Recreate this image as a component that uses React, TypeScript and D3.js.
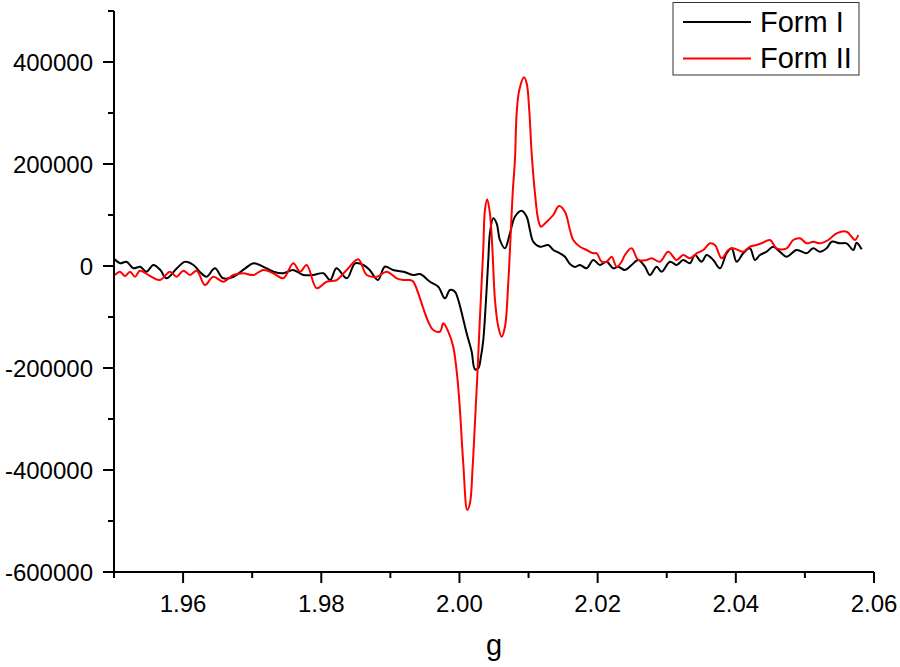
import React from "react";
import * as d3 from "d3";

const gForm1 = [1.9501,1.9509,1.9518,1.9528,1.9538,1.9547,1.9557,1.9567,1.9576,1.9591,1.9603,1.9615,1.9624,1.9634,1.9646,1.9658,1.9673,1.969,1.9702,1.9716,1.9731,1.9745,1.9759,1.9774,1.9788,1.9803,1.9813,1.9822,1.9837,1.9849,1.9861,1.987,1.9882,1.9892,1.9904,1.9919,1.9933,1.9943,
1.99573,1.99693,1.9979,1.99863,1.99935,1.99983,2.00046,2.00104,2.00177,2.00224,2.00272,2.00311,2.00345,2.00384,2.00417,2.00441,2.00489,2.00538,2.00586,2.00659,2.00731,2.00803,2.009,2.00973,2.0102,2.01068,2.01165,2.01285,2.01358,2.01455,2.01527,2.01599,2.01672,
2.01744,2.01841,2.01937,2.02033,2.0213,2.02226,2.02298,2.02395,2.02492,2.02588,2.02685,2.02757,2.02854,2.02926,2.03047,2.03143,2.03239,2.03336,2.03408,2.03505,2.03578,2.03673,2.0377,2.03867,2.03939,2.04012,2.04107,2.04204,2.04277,2.04349,2.04446,2.04541,2.04638,2.04735,2.0488,2.05025,2.0512,2.05217,2.05314,2.05387,2.05507,2.05603,2.057,2.05748,2.05821];
const valForm1 = [13100,5300,8400,-4500,-1400,-11200,2000,-7800,-24100,-4500,8400,2000,-11200,-21000,-4500,-24100,-21000,-4500,5300,-1400,-11200,-14300,-7800,-17600,-17600,-14300,-27500,-4500,-24100,5300,2000,-7800,-27500,-1400,-7800,-11200,-17600,-15700,
-30800,-40600,-63300,-47100,-50400,-66700,-99400,-132000,-168000,-202600,-200600,-177800,-145100,-66700,11800,64100,93500,83700,51000,34700,64100,96700,108400,96700,70600,47600,37800,41200,31400,24900,18200,3900,-2000,
2000,-4500,11800,2000,8400,-4500,-1400,-7800,2000,11800,-1400,-17600,-1400,-11200,8400,2000,11800,5300,21600,8400,21600,11800,-4500,24900,34700,8400,24900,34700,11800,21600,28000,37800,28000,18200,31400,24900,34700,28000,34700,47600,44500,44500,31400,45700,32700];

const gForm2 = [1.95014,1.95087,1.95159,1.95232,1.95304,1.95376,1.95521,1.95666,1.9581,1.95907,1.96003,1.961,1.96197,1.96317,1.96437,1.96582,1.96727,1.96871,1.97016,1.97161,1.97305,1.9745,1.97595,1.97692,1.97789,1.97933,1.98078,1.98223,1.98368,1.98535,1.98657,1.98802,1.98947,1.99091,1.99187,1.99284,
1.99332,1.99404,1.99476,1.99549,1.99621,1.99718,1.99766,1.99838,1.9991,1.99968,2.00007,2.00055,2.00113,2.00152,2.00191,2.00224,2.00258,2.00297,2.00344,2.00369,2.00402,2.00441,2.00475,2.00514,2.00562,2.00611,2.00659,2.00706,2.00731,2.0077,2.00803,2.00828,2.00866,2.00934,2.00973,2.0101,2.01045,2.01093,2.01141,2.0118,2.01262,2.01358,2.0144,2.01527,2.01599,2.01647,2.01744,2.01841,2.01937,
2.01986,2.02058,2.0213,2.02203,2.02275,2.02347,2.02395,2.02492,2.02588,2.02709,2.02782,2.02902,2.03022,2.03143,2.03239,2.03336,2.03433,2.03529,2.03625,2.03698,2.03795,2.0389,2.03963,2.04107,2.04204,2.04301,2.04373,2.04494,2.0459,2.04735,2.04831,2.04928,2.05025,2.0512,2.05217,2.05338,2.05459,2.05603,2.05724,2.05772];
const valForm2 = [-17600,-11200,-19600,-11200,-21000,-9200,-19600,-27500,-11200,-21000,-9200,-17600,-9200,-37300,-21000,-30800,-17600,-14300,-17600,-7800,-14300,-24100,5300,-11200,2000,-43700,-30800,-27500,-7800,13100,-17600,-21000,-11200,-24100,-27500,-27500,
-30800,-53500,-82900,-109200,-125500,-128800,-112400,-128800,-158200,-217100,-282400,-386900,-478400,-465300,-393500,-308400,-217100,-99400,31400,109800,130800,103300,37800,-66700,-119000,-138600,-119000,-34000,31400,142500,207800,299400,345100,370000,358200,305900,221000,142500,90200,77000,86900,100000,117600,106500,70600,51000,37800,31400,24900,
24900,8400,8400,18200,-1400,8400,21600,34700,11800,11800,15100,8400,28000,11800,21600,15100,24900,31400,44500,41200,15100,31400,34700,28000,37800,41200,44500,51000,34700,34700,51000,54300,44500,47600,44500,51000,64100,67300,51000,60800];

const xTickLabels = ["1.96", "1.98", "2.00", "2.02", "2.04", "2.06"];
const yTickLabels = ["400000", "200000", "0", "-200000", "-400000", "-600000"];
const seriesNames = ["Form I", "Form II"];
const seriesColors = ["#000000", "#ff0000"];

const FONT = "'Liberation Sans', Arial, sans-serif";

export default function App() {
  const W = 900, H = 667;
  const x = d3.scaleLinear().domain([1.95, 2.06]).range([114, 874]);
  const y = d3.scaleLinear().domain([-600000, 500000]).range([572, 11]);

  const series = [
    gForm1.map((g, i) => [g, valForm1[i]] as [number, number]),
    gForm2.map((g, i) => [g, valForm2[i]] as [number, number]),
  ];
  const line = d3.line<[number, number]>().x(d => x(d[0])).y(d => y(d[1])).curve(d3.curveCatmullRom.alpha(0.5));

  const xMajor = xTickLabels.map(Number);
  const xMinor = d3.range(1.95, 2.06, 0.02).map(v => +v.toFixed(2));
  const yMajor = yTickLabels.map(Number);
  const yMinor = d3.range(-500000, 600000, 200000);

  return (
    <svg width={W} height={H} style={{ position: "absolute", left: 0, top: 0, background: "#fff" }} fontFamily={FONT}>
      <rect width={W} height={H} fill="#fff" />
      <path d={line(series[0]) || ""} fill="none" stroke={seriesColors[0]} strokeWidth={2} strokeLinejoin="round" />
      <path d={line(series[1]) || ""} fill="none" stroke={seriesColors[1]} strokeWidth={2} strokeLinejoin="round" />

      <line x1={x(1.95)} x2={x(1.95)} y1={y(500000)} y2={y(-600000)} stroke="#000" strokeWidth={2} />
      <line x1={x(1.95) - 1} x2={x(2.06)} y1={y(-600000)} y2={y(-600000)} stroke="#000" strokeWidth={2} />
      {yMajor.map((v, i) => (
        <g key={"ym" + i}>
          <line x1={x(1.95) - 11} x2={x(1.95)} y1={y(v)} y2={y(v)} stroke="#000" strokeWidth={2} />
          <text x={93} y={y(v)} dy="0.36em" textAnchor="end" fontSize={24} fill="#000">{yTickLabels[i]}</text>
        </g>
      ))}
      {yMinor.map((v, i) => (
        <line key={"yn" + i} x1={x(1.95) - 6} x2={x(1.95)} y1={y(v)} y2={y(v)} stroke="#000" strokeWidth={2} />
      ))}
      {xMajor.map((v, i) => (
        <g key={"xm" + i}>
          <line x1={x(v)} x2={x(v)} y1={y(-600000)} y2={y(-600000) + 11} stroke="#000" strokeWidth={2} />
          <text x={x(v)} y={611.5} textAnchor="middle" fontSize={24} fill="#000">{xTickLabels[i]}</text>
        </g>
      ))}
      {xMinor.map((v, i) => (
        <line key={"xn" + i} x1={x(v)} x2={x(v)} y1={y(-600000)} y2={y(-600000) + 6} stroke="#000" strokeWidth={2} />
      ))}
      <text x={(x(1.95) + x(2.06)) / 2} y={655} textAnchor="middle" fontSize={29} fill="#000">g</text>

      <rect x={673} y={2.5} width={186} height={72.5} fill="#fff" stroke="#333" strokeWidth={1} />
      {seriesNames.map((n, i) => (
        <g key={"lg" + i}>
          <line x1={683} x2={751} y1={22 + i * 36.5} y2={22 + i * 36.5} stroke={seriesColors[i]} strokeWidth={2} />
          <text x={760} y={31.5 + i * 36.5} fontSize={29} fill="#000">{n}</text>
        </g>
      ))}
    </svg>
  );
}
